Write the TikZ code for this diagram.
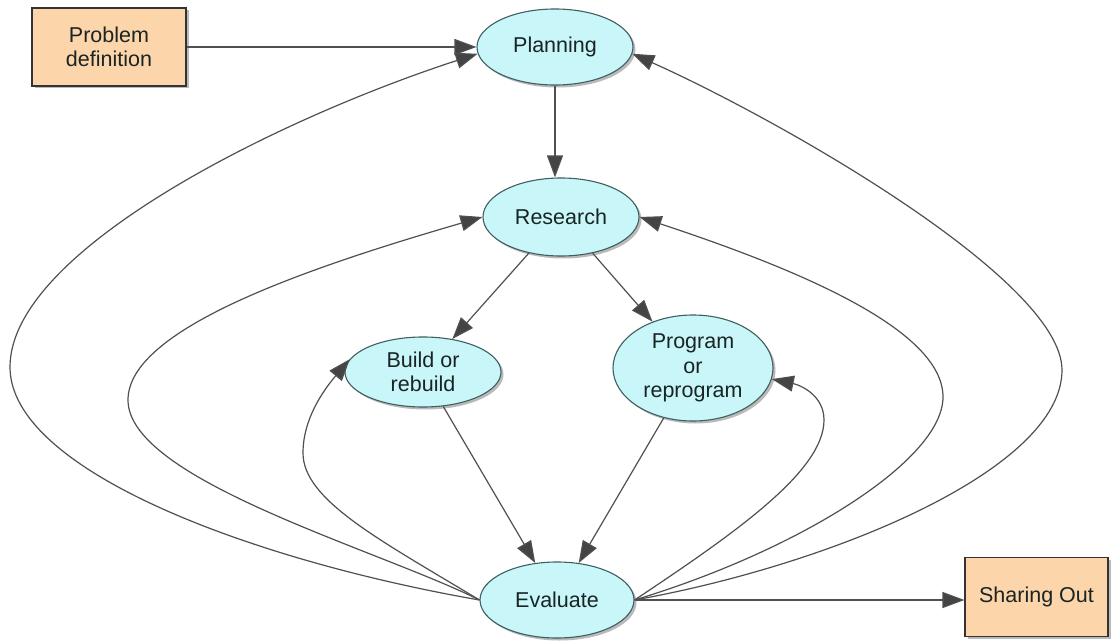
\documentclass[tikz,border=0pt]{standalone}
\usepackage{fontspec}
\setmainfont{Liberation Sans}
\usetikzlibrary{shapes.geometric,arrows.meta,shadows}
\definecolor{ellfill}{HTML}{C9F6F8}
\definecolor{ellline}{HTML}{3F5F60}
\definecolor{boxfill}{HTML}{FDD5AA}
\definecolor{boxline}{HTML}{333333}
\definecolor{edgecol}{HTML}{505050}
\definecolor{tipcol}{HTML}{444444}
\definecolor{txtcol}{HTML}{1A2424}
\tikzset{
  base/.style={inner sep=0pt, text=txtcol, align=center,
    font=\fontsize{21.5}{24.5}\selectfont,
    drop shadow={shadow xshift=2.5pt, shadow yshift=-2.5pt, fill=black!45, opacity=0.6}},
  ell/.style={base, ellipse, draw=ellline, line width=1.1pt, fill=ellfill},
  box/.style={base, rectangle, draw=boxline, line width=1.1pt, fill=boxfill},
  edge/.style={draw=edgecol, line width=1.2pt,
    -{Triangle[length=22pt,width=16pt,fill=tipcol]}}
}
\begin{document}
\begin{tikzpicture}[x=1pt,y=-1pt]
\useasboundingbox (0,0) rectangle (1112,642);
\fill[white] (0,0) rectangle (1112,642);

\node[box, minimum width=154pt, minimum height=78pt] (prob) at (109,47) {Problem\\definition};
\node[box, minimum width=143pt, minimum height=79pt] (share) at (1036.5,597) {Sharing Out};
\node[ell, minimum width=156pt, minimum height=76pt] (plan) at (555,47) {Planning};
\node[ell, minimum width=156pt, minimum height=78pt] (res) at (561,217) {Research};
\node[ell, minimum width=156pt, minimum height=70pt] (build) at (423,372) {Build or\\rebuild};
\node[ell, minimum width=160pt, minimum height=106pt] (prog) at (693,368) {Program\\or\\reprogram};
\node[ell, minimum width=154pt, minimum height=76pt] (eval) at (557,600) {Evaluate};

% straight edges
\draw[edge] (prob) -- (plan);
\draw[edge] (plan.south) -- (plan.south |- res.north);
\draw[edge] (res) -- (build);
\draw[edge] (res) -- (prog);
\draw[edge] (build) -- (eval);
\draw[edge] (prog) -- (eval);
\draw[edge] (eval.east) -- (eval.east -| share.west);

% feedback curves (left side)
\draw[edge] (eval.west) .. controls (250,560) and (10,470) .. (10,367)
  .. controls (10,250) and (280,118) .. (plan.185);
\draw[edge] (eval.west) .. controls (380,550) and (128,480) .. (128,400)
  .. controls (128,330) and (300,270) .. (res.west);
\draw[edge] (eval.west) .. controls (380,540) and (303,500) .. (303,453)
  .. controls (303,420) and (322,392) .. (build.170);

% feedback curves (right side)
\draw[edge] (eval.east) .. controls (830,565) and (1062,470) .. (1062,370)
  .. controls (1062,280) and (780,120) .. (plan.-5);
\draw[edge] (eval.east) .. controls (800,550) and (943,460) .. (943,397)
  .. controls (943,330) and (800,270) .. (res.east);
\draw[edge] (eval.east) .. controls (740,530) and (824,470) .. (824,420)
  .. controls (824,395) and (800,385) .. (prog.-8);
\end{tikzpicture}
\end{document}
